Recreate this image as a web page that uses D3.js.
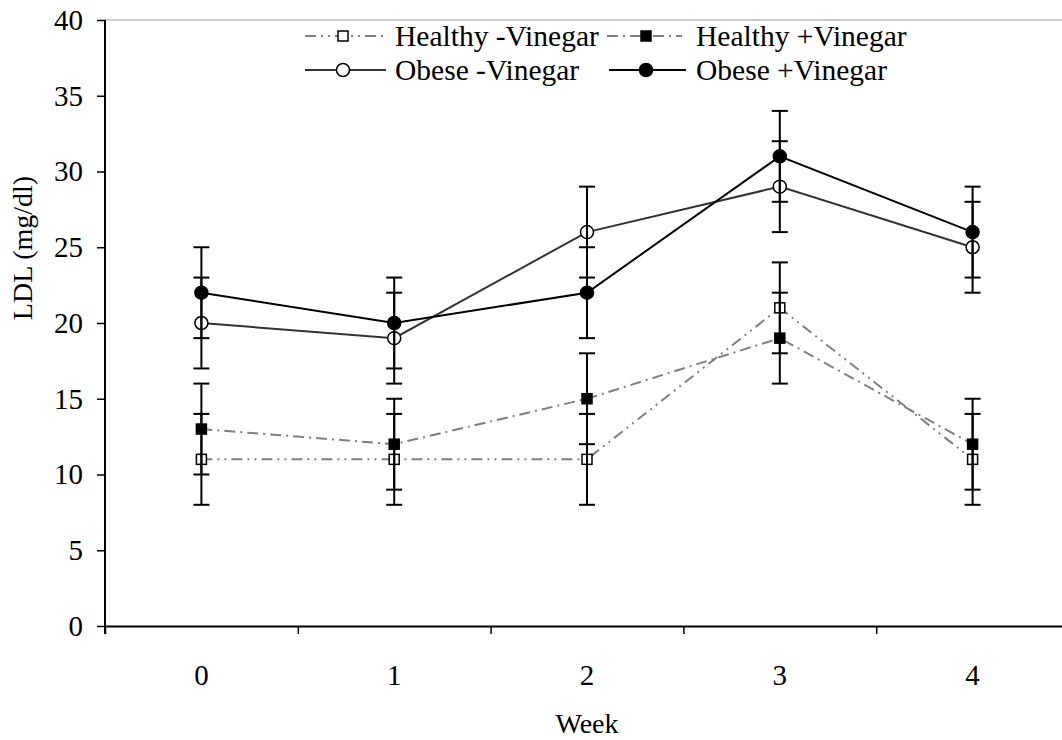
<!DOCTYPE html>
<html>
<head>
<meta charset="utf-8">
<script src="https://cdn.jsdelivr.net/npm/d3@7"></script>
<style>
    body { margin: 0; background: #fff; }
    svg { display: block; font-family: "Liberation Serif", "Times New Roman", serif; }
</style>
</head>
<body>
<div id="chart"></div>
<script>
const weeks = ["0", "1", "2", "3", "4"];
const yTicks = [0, 5, 10, 15, 20, 25, 30, 35, 40];

const healthyMinus = [11, 11, 11, 21, 11];
const healthyPlus = [13, 12, 15, 19, 12];
const obeseMinus = [20, 19, 26, 29, 25];
const obesePlus = [22, 20, 22, 31, 26];

const healthyMinusErr = [3, 3, 3, 3, 3];
const healthyPlusErr = [3, 3, 3, 3, 3];
const obeseMinusErr = [3, 3, 3, 3, 3];
const obesePlusErr = [3, 3, 3, 3, 3];

const seriesNames = ["Healthy -Vinegar", "Healthy +Vinegar", "Obese -Vinegar", "Obese +Vinegar"];

const series = [
    { name: seriesNames[0], values: healthyMinus, err: healthyMinusErr, color: "#808080", dash: "11,5,2,5,2,5", marker: "square", fill: "#fff", width: 2 },
    { name: seriesNames[1], values: healthyPlus, err: healthyPlusErr, color: "#808080", dash: "11,5,2,5", marker: "square", fill: "#000", width: 2 },
    { name: seriesNames[2], values: obeseMinus, err: obeseMinusErr, color: "#333", dash: null, marker: "circle", fill: "#fff", width: 2 },
    { name: seriesNames[3], values: obesePlus, err: obesePlusErr, color: "#000", dash: null, marker: "circle", fill: "#000", width: 2 }
];

const width = 1062;
const height = 740;
const margin = { top: 20, right: -7, bottom: 114, left: 105 };

const svg = d3.select("#chart")
    .append("svg")
    .attr("width", width)
    .attr("height", height);

const x = d3.scaleBand()
    .domain(weeks)
    .range([margin.left, width - margin.right])
    .padding(0);

const xEdge = d3.scaleLinear()
    .domain([0, weeks.length])
    .range([margin.left, width - margin.right]);

const y = d3.scaleLinear()
    .domain([0, 40])
    .range([height - margin.bottom, margin.top]);

const cx = w => x(w) + x.bandwidth() / 2;

// top border of plot area
svg.append("line")
    .attr("x1", margin.left).attr("x2", width)
    .attr("y1", y(40)).attr("y2", y(40))
    .attr("stroke", "#bbb")
    .attr("stroke-width", 1.5);

// y axis
const yAxisG = svg.append("g")
    .attr("transform", `translate(${margin.left},0)`)
    .call(d3.axisLeft(y).tickValues(yTicks).tickSize(8).tickPadding(14).tickSizeOuter(0));
yAxisG.select(".domain")
    .attr("d", `M0,${y(40)}V${y(0) + 8}`)
    .attr("stroke-width", 2);
yAxisG.selectAll("line").attr("stroke-width", 1.5);
yAxisG.selectAll("text")
    .style("font-size", "29px")
    .style("font-family", "Liberation Serif")
    .attr("fill", "#000");

// x axis boundary ticks
const xEdgeG = svg.append("g")
    .attr("transform", `translate(0,${y(0)})`)
    .call(d3.axisBottom(xEdge).tickValues(d3.range(weeks.length + 1)).tickSize(8).tickFormat("").tickSizeOuter(0));
xEdgeG.select(".domain").attr("stroke-width", 2);
xEdgeG.selectAll("line").attr("stroke-width", 1.5);

// x axis labels
const xAxisG = svg.append("g")
    .attr("transform", `translate(0,${y(0)})`)
    .call(d3.axisBottom(x).tickSize(0).tickPadding(38));
xAxisG.select(".domain").remove();
xAxisG.selectAll("text")
    .style("font-size", "29px")
    .style("font-family", "Liberation Serif")
    .attr("fill", "#000");

// axis titles
svg.append("text")
    .attr("x", cx("2"))
    .attr("y", 733)
    .attr("text-anchor", "middle")
    .attr("font-size", 28)
    .text("Week");

svg.append("text")
    .attr("transform", `translate(32,${248}) rotate(-90)`)
    .attr("text-anchor", "middle")
    .attr("font-size", 28)
    .text("LDL (mg/dl)");

const line = d3.line()
    .x((d, i) => cx(weeks[i]))
    .y(d => y(d));

const drawMarker = (sel, s, px, py) => {
    if (s.marker === "square") {
        sel.append("rect")
            .attr("x", px - 5).attr("y", py - 5)
            .attr("width", 10).attr("height", 10)
            .attr("fill", s.fill)
            .attr("stroke", "#000")
            .attr("stroke-width", 1.5);
    } else {
        sel.append("circle")
            .attr("cx", px).attr("cy", py)
            .attr("r", 6.5)
            .attr("fill", s.fill)
            .attr("stroke", "#000")
            .attr("stroke-width", 1.5);
    }
};

const plot = svg.append("g");

series.forEach(s => {
    plot.append("path")
        .attr("d", line(s.values))
        .attr("fill", "none")
        .attr("stroke", s.color)
        .attr("stroke-width", s.width)
        .attr("stroke-dasharray", s.dash);
});

series.forEach(s => {
    const g = plot.append("g");
    s.values.forEach((v, i) => drawMarker(g, s, cx(weeks[i]), y(v)));
});

// error bars
series.forEach(s => {
    const g = plot.append("g")
        .attr("stroke", "#000")
        .attr("stroke-width", 2);
    s.values.forEach((v, i) => {
        const px = cx(weeks[i]);
        const lo = y(v - s.err[i]);
        const hi = y(v + s.err[i]);
        g.append("line").attr("x1", px).attr("x2", px).attr("y1", lo).attr("y2", hi);
        g.append("line").attr("x1", px - 8).attr("x2", px + 8).attr("y1", lo).attr("y2", lo);
        g.append("line").attr("x1", px - 8).attr("x2", px + 8).attr("y1", hi).attr("y2", hi);
    });
});

// legend
const legendItems = [
    { s: series[0], x0: 305, x1: 386, mx: 343, tx: 395, ly: 36 },
    { s: series[1], x0: 607, x1: 682, mx: 646, tx: 696, ly: 36 },
    { s: series[2], x0: 305, x1: 386, mx: 343, tx: 395, ly: 70 },
    { s: series[3], x0: 609, x1: 686, mx: 646, tx: 696, ly: 70 }
];

const legend = svg.append("g");
legendItems.forEach(d => {
    legend.append("line")
        .attr("x1", d.x0).attr("x2", d.x1)
        .attr("y1", d.ly).attr("y2", d.ly)
        .attr("stroke", d.s.color)
        .attr("stroke-width", d.s.width)
        .attr("stroke-dasharray", d.s.dash);
    drawMarker(legend, d.s, d.mx, d.ly);
    legend.append("text")
        .attr("x", d.tx)
        .attr("y", d.ly + 10)
        .attr("font-size", 29.5)
        .text(d.s.name);
});
</script>
</body>
</html>
